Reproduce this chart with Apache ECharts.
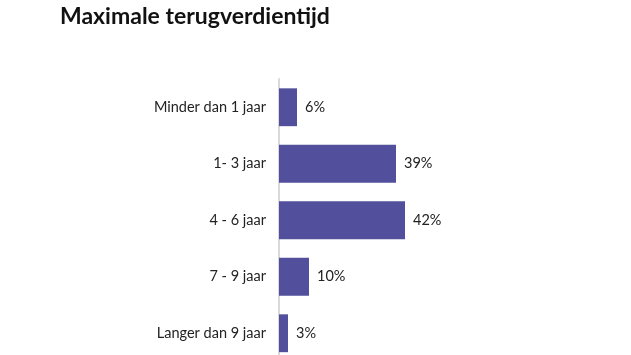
<!DOCTYPE html>
<html>
<head>
<meta charset="utf-8">
<script src="https://cdn.jsdelivr.net/npm/echarts@6/dist/echarts.min.js"></script>
<style>html,body{margin:0;padding:0;background:#fff}#c{width:631px;height:355px}</style>
</head>
<body>
<div id="c"></div>
<script>
var categories = ['Minder dan 1 jaar', '1- 3 jaar', '4 - 6 jaar', '7 - 9 jaar', 'Langer dan 9 jaar'];
var values = [6, 39, 42, 10, 3];
var titleText = 'Maximale terugverdientijd';

var chart = echarts.init(document.getElementById('c'));
chart.setOption({
  animation: false,
  title: {
    text: titleText,
    left: 55, top: 0,
    textStyle: { fontFamily: 'Lato', fontWeight: 'bold', fontSize: 23, color: '#111' }
  },
  grid: { left: 279, top: 79, width: 300, height: 282.5, outerBoundsMode: 'none', containLabel: false },
  xAxis: {
    type: 'value', min: 0, max: 100,
    show: false
  },
  yAxis: {
    type: 'category', data: categories, inverse: true,
    axisLine: { show: true, lineStyle: { color: '#d9d9d9', width: 2 } },
    axisTick: { show: false },
    axisLabel: { color: '#222', fontFamily: 'Lato', fontSize: 14.5, margin: 13 }
  },
  series: [{
    type: 'bar', data: values,
    barCategoryGap: '33%',
    itemStyle: { color: '#524f9c' },
    label: {
      show: true, position: 'right', distance: 8,
      formatter: '{c}%', color: '#222', fontFamily: 'Lato', fontSize: 14.5
    }
  }]
});
</script>
</body>
</html>
